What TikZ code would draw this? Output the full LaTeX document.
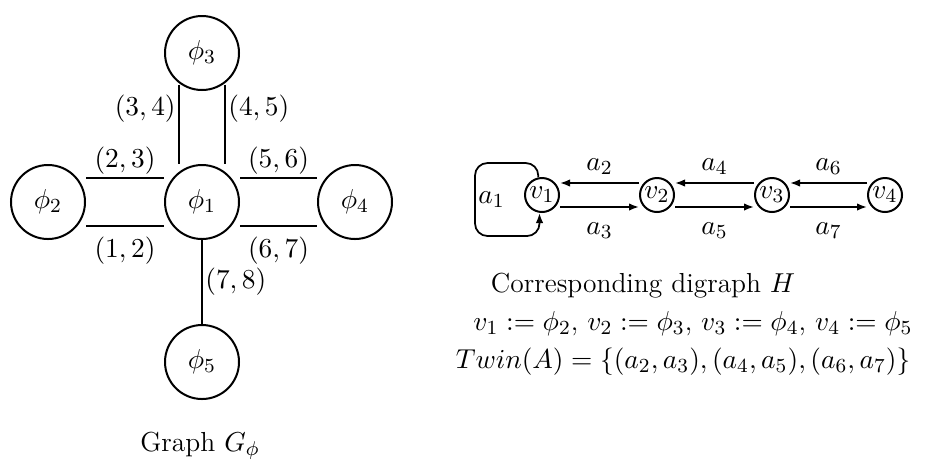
\documentclass[tikz,border=0pt]{standalone}
\usepackage{amsmath,amssymb}
\usepackage{tikz}
\usetikzlibrary{positioning,arrows.meta}

\begin{document}
\begin{tikzpicture}[x=0.4pt,y=-0.4pt,font={\fontsize{11}{13}\selectfont},line width=0.7pt,
  bignode/.style={circle,draw,line width=0.8pt,minimum size=29.6pt,inner sep=0pt},
  smallnode/.style={circle,draw,line width=0.8pt,minimum size=13.6pt,inner sep=0.5pt},
  lbl/.style={inner sep=1pt},
  arc/.style={-{Latex[length=4pt,width=3pt]}}]
\useasboundingbox (0,0) rectangle (930,462);
% graph G_phi
\node[bignode] (p1) at (202,202) {$\phi_1$};
\node[bignode] (p2) at (48,202) {$\phi_2$};
\node[bignode] (p3) at (202,53) {$\phi_3$};
\node[bignode] (p4) at (355,202) {$\phi_4$};
\node[bignode] (p5) at (202,362) {$\phi_5$};
\draw ([yshift=9.6pt]p2.east) -- node[lbl,above] {$(2,3)$} ([yshift=9.6pt]p1.west);
\draw ([yshift=-9.6pt]p2.east) -- node[lbl,below=3pt] {$(1,2)$} ([yshift=-9.6pt]p1.west);
\draw ([yshift=9.6pt]p1.east) -- node[lbl,above] {$(5,6)$} ([yshift=9.6pt]p4.west);
\draw ([yshift=-9.6pt]p1.east) -- node[lbl,below=3pt] {$(6,7)$} ([yshift=-9.6pt]p4.west);
\draw ([xshift=-9.2pt,yshift=2.6pt]p3.south) -- node[lbl,left,pos=0.3] {$(3,4)$} ([xshift=-9.2pt]p1.north);
\draw ([xshift=9.2pt,yshift=2.6pt]p3.south) -- node[lbl,right,pos=0.3] {$(4,5)$} ([xshift=9.2pt]p1.north);
\draw (p1) -- node[lbl,right] {$(7,8)$} (p5);
\node (capG) at (200,446) {Graph $G_\phi$};
% digraph H
\node[smallnode] (v1) at (542,195) {$v_1$};
\node[smallnode] (v2) at (657,195) {$v_2$};
\node[smallnode] (v3) at (772,195) {$v_3$};
\node[smallnode] (v4) at (885,195) {$v_4$};
\coordinate (lpa) at (475,163);
\coordinate (lpb) at (475,236);
\draw[arc,rounded corners=5pt] ([xshift=-1.5pt]v1.north) |- (lpa) -- node[lbl,right] {$a_1$} (lpb) -| ([xshift=-1pt]v1.south);
\draw[arc] ([yshift=4.8pt]v2.west) -- node[lbl,above=2pt] {$a_2$} ([yshift=4.8pt]v1.east);
\draw[arc] ([yshift=-4.8pt]v1.east) -- node[lbl,below=5pt] {$a_3$} ([yshift=-4.8pt]v2.west);
\draw[arc] ([yshift=4.8pt]v3.west) -- node[lbl,above=2pt] {$a_4$} ([yshift=4.8pt]v2.east);
\draw[arc] ([yshift=-4.8pt]v2.east) -- node[lbl,below=5pt] {$a_5$} ([yshift=-4.8pt]v3.west);
\draw[arc] ([yshift=4.8pt]v4.west) -- node[lbl,above=2pt] {$a_6$} ([yshift=4.8pt]v3.east);
\draw[arc] ([yshift=-4.8pt]v3.east) -- node[lbl,below=5pt] {$a_7$} ([yshift=-4.8pt]v4.west);
\node[lbl] (capH) at (643,286) {Corresponding digraph $H$};
\node[lbl] (capv) at (693,324) {$v_1 := \phi_2$, $v_2 := \phi_3$, $v_3 := \phi_4$, $v_4 := \phi_5$};
\node[lbl] (captw) at (683,362) {$Twin(A) = \{(a_2,a_3),(a_4,a_5),(a_6,a_7)\}$};
\end{tikzpicture}
\end{document}
